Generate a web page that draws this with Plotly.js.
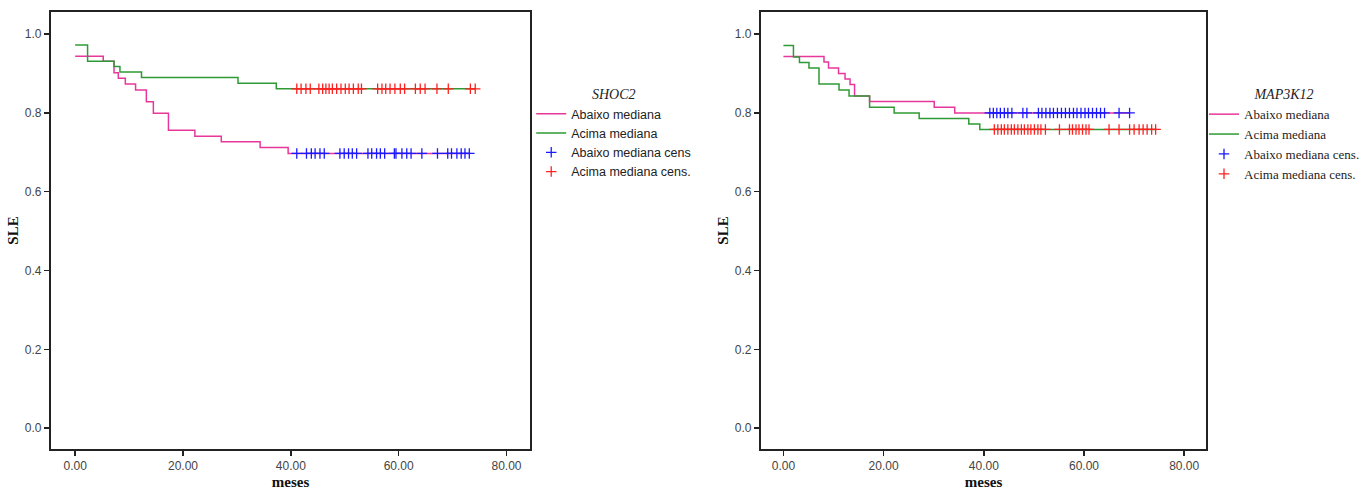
<!DOCTYPE html>
<html>
<head>
<meta charset="utf-8">
<script src="https://cdn.plot.ly/plotly-3.0.1.min.js"></script>
<style>html,body{margin:0;padding:0;background:#fff;}#chart{width:1365px;height:490px;}</style>
</head>
<body>
<div id="chart"></div>
<script>
// ---------- SHOC2 (left panel) ----------
const shoc2AbaixoT = [0, 5.2, 7.2, 8.0, 9.3, 11.2, 13.2, 14.5, 17.3, 22.2, 27.1, 34.3, 39.5, 73.1];
const shoc2AbaixoS = [0.944, 0.931, 0.902, 0.888, 0.873, 0.858, 0.828, 0.799, 0.756, 0.741, 0.727, 0.712, 0.697, 0.697];
const shoc2AcimaT = [0, 2.3, 7.2, 8.3, 12.3, 30.2, 37.3, 74.2];
const shoc2AcimaS = [0.972, 0.931, 0.918, 0.904, 0.890, 0.875, 0.861, 0.861];
const shoc2AbaixoCensT = [41.1, 42.9, 43.8, 44.5, 45.4, 46.2, 49.1, 49.9, 50.7, 51.4, 52.2, 54.3, 55.0, 55.9, 56.6, 57.4, 59.2, 59.5, 60.6, 61.5, 62.3, 64.3, 67.2, 69.1, 69.8, 70.8, 71.6, 72.3, 73.1];
const shoc2AbaixoCensS = 0.697;
const shoc2AcimaCensT = [41.1, 41.9, 42.8, 43.6, 45.2, 45.9, 46.5, 47.1, 47.7, 48.5, 49.3, 50.1, 50.8, 51.6, 52.5, 53.1, 56.1, 56.9, 57.6, 58.4, 59.3, 60.3, 61.1, 63.1, 64.0, 64.9, 67.1, 69.2, 73.3, 74.2];
const shoc2AcimaCensS = 0.861;

// ---------- MAP3K12 (right panel) ----------
const mapAbaixoT = [0, 8.1, 9.0, 11.0, 12.3, 13.3, 14.2, 17.2, 30.1, 34.2, 69.1];
const mapAbaixoS = [0.943, 0.929, 0.914, 0.900, 0.886, 0.872, 0.843, 0.829, 0.814, 0.800, 0.800];
const mapAcimaT = [0, 2.0, 3.2, 5.1, 7.1, 11.1, 13.1, 17.2, 22.1, 27.1, 37.0, 39.2, 74.3];
const mapAcimaS = [0.971, 0.942, 0.928, 0.914, 0.873, 0.858, 0.843, 0.814, 0.800, 0.786, 0.772, 0.758, 0.758];
const mapAbaixoCensT = [41.2, 41.9, 42.6, 43.3, 44.1, 44.8, 45.6, 47.8, 48.6, 50.9, 51.6, 52.4, 53.2, 53.9, 54.7, 55.5, 56.3, 57.1, 57.9, 58.6, 59.4, 60.2, 60.9, 61.7, 62.5, 63.3, 64.1, 67.0, 69.1];
const mapAbaixoCensS = 0.800;
const mapAcimaCensT = [42.1, 42.8, 43.5, 44.1, 44.8, 45.5, 46.1, 46.8, 47.5, 48.1, 48.8, 49.4, 50.1, 50.8, 51.4, 52.3, 55.1, 57.1, 57.7, 58.4, 59.0, 59.7, 60.4, 61.0, 65.0, 67.0, 69.1, 70.0, 71.0, 71.8, 72.6, 73.5, 74.3];
const mapAcimaCensS = 0.758;

const xTicks = [0, 20, 40, 60, 80];
const yTicks = [0, 0.2, 0.4, 0.6, 0.8, 1.0];
const labels = ["Abaixo mediana", "Acima mediana"];
const leftCensLabels = ["Abaixo mediana cens", "Acima mediana cens."];
const rightCensLabels = ["Abaixo mediana cens.", "Acima mediana cens."];
const panelTitles = ["SHOC2", "MAP3K12"];

const PINK = '#e8379c', GREEN = '#2f9a34', BLUE = '#1a1aff', RED = '#ff2020';

function lineTrace(x, y, name, color, xa, ya, leg) {
  return {x: x, y: y, type: 'scatter', mode: 'lines', name: name,
    line: {color: color, width: 1.5, shape: 'hv'}, xaxis: xa, yaxis: ya, legend: leg, hoverinfo: 'skip'};
}
function censTrace(x, s, name, color, xa, ya, leg) {
  return {x: x, y: x.map(() => s), type: 'scatter', mode: 'markers', name: name,
    marker: {symbol: 'cross-thin', size: 7.5, color: color, line: {color: color, width: 1.3}},
    xaxis: xa, yaxis: ya, legend: leg, hoverinfo: 'skip'};
}

const data = [
  lineTrace(shoc2AbaixoT, shoc2AbaixoS, labels[0], PINK, 'x', 'y', 'legend'),
  lineTrace(shoc2AcimaT, shoc2AcimaS, labels[1], GREEN, 'x', 'y', 'legend'),
  censTrace(shoc2AbaixoCensT, shoc2AbaixoCensS, leftCensLabels[0], BLUE, 'x', 'y', 'legend'),
  censTrace(shoc2AcimaCensT, shoc2AcimaCensS, leftCensLabels[1], RED, 'x', 'y', 'legend'),
  lineTrace(mapAbaixoT, mapAbaixoS, labels[0], PINK, 'x2', 'y2', 'legend2'),
  lineTrace(mapAcimaT, mapAcimaS, labels[1], GREEN, 'x2', 'y2', 'legend2'),
  censTrace(mapAbaixoCensT, mapAbaixoCensS, rightCensLabels[0], BLUE, 'x2', 'y2', 'legend2'),
  censTrace(mapAcimaCensT, mapAcimaCensS, rightCensLabels[1], RED, 'x2', 'y2', 'legend2')
];

const tickFont = {family: 'Liberation Sans, Arial, sans-serif', size: 12, color: '#444'};
const titleFont = {family: 'Liberation Serif, Times New Roman, serif', size: 15, color: '#111', weight: 'bold'};

function xAxis(domain, anchor) {
  return {domain: domain, anchor: anchor, range: [-4.5, 84.4], tickvals: xTicks,
    ticktext: xTicks.map(v => v.toFixed(2)), ticks: 'outside', ticklen: 5, tickwidth: 1.5, tickcolor: '#222',
    showline: true, linewidth: 2, linecolor: '#222', mirror: true, showgrid: false, zeroline: false,
    tickfont: tickFont, title: {text: 'meses', font: titleFont, standoff: 8}};
}
function yAxis(domain, anchor) {
  return {domain: domain, anchor: anchor, range: [-0.053, 1.056], tickvals: yTicks,
    ticktext: yTicks.map(v => v.toFixed(1)), ticks: 'outside', ticklen: 5, tickwidth: 1.5, tickcolor: '#222',
    showline: true, linewidth: 2, linecolor: '#222', mirror: true, showgrid: false, zeroline: false,
    tickfont: tickFont, title: {text: 'SLE', font: titleFont, standoff: 3}};
}

const yDom = [1 - 449/490, 1 - 12/490];
const layout = {
  width: 1365, height: 490,
  margin: {l: 0, r: 0, t: 0, b: 0},
  paper_bgcolor: '#fff', plot_bgcolor: '#fff',
  showlegend: true,
  xaxis: xAxis([51/1365, 531/1365], 'y'),
  yaxis: yAxis(yDom, 'x'),
  xaxis2: xAxis([762/1365, 1208/1365], 'y2'),
  yaxis2: yAxis(yDom, 'x2'),
  legend: {x: 532/1365, y: 1 - 81/490, xanchor: 'left', yanchor: 'top', bgcolor: 'rgba(0,0,0,0)',
    font: {family: 'Liberation Sans, Arial, sans-serif', size: 12.5, color: '#222'}, tracegroupgap: 0,
    itemwidth: 30,
    title: {text: panelTitles[0], side: 'top center',
      font: {family: 'Liberation Serif, Times New Roman, serif', size: 14, style: 'italic', color: '#222'}}},
  legend2: {x: 1206/1365, y: 1 - 81/490, xanchor: 'left', yanchor: 'top', bgcolor: 'rgba(0,0,0,0)',
    font: {family: 'Liberation Serif, Times New Roman, serif', size: 13, color: '#222'}, tracegroupgap: 0,
    itemwidth: 30,
    title: {text: panelTitles[1], side: 'top center',
      font: {family: 'Liberation Serif, Times New Roman, serif', size: 14, style: 'italic', color: '#222'}}}
};

Plotly.newPlot('chart', data, layout, {displayModeBar: false, staticPlot: true});
</script>
</body>
</html>
